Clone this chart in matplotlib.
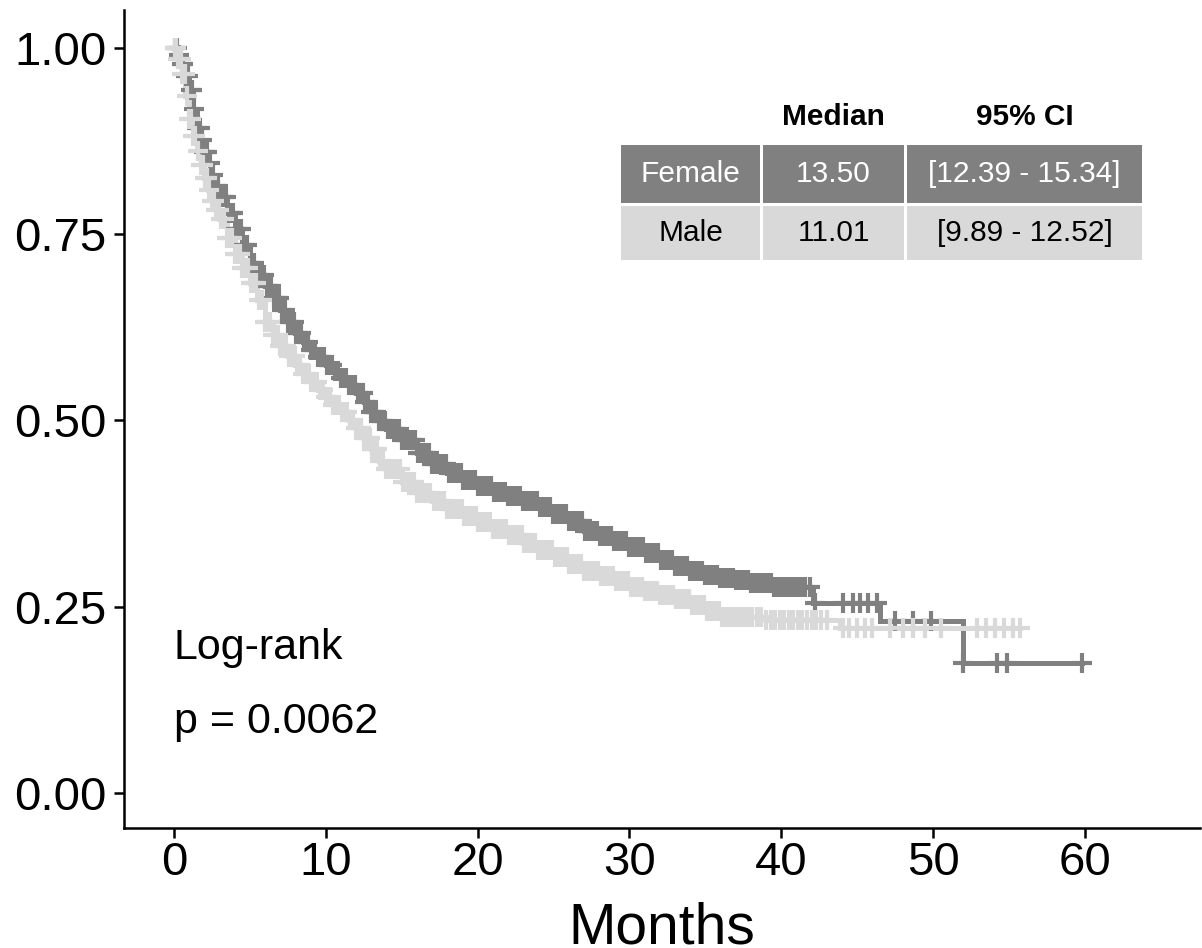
import matplotlib
matplotlib.use("Agg")
import matplotlib.pyplot as plt
import numpy as np
from matplotlib.patches import Rectangle

plt.rcParams['font.family'] = ['Liberation Sans', 'DejaVu Sans']

# Kaplan-Meier step knots (months, survival)
female_t = [0, 0.25, 0.5, 0.75, 1.0, 1.25, 1.5, 1.75, 2.0, 2.25, 2.5, 2.75, 3.0,
            3.5, 4.0, 4.5, 5.0, 5.5, 6.0, 6.5, 7.0, 7.5, 8.0, 8.5, 9.0, 9.5, 10.0,
            10.5, 11.0, 11.5, 12.0, 12.5, 13.0, 13.5, 14.0, 15.0, 16.0, 17.0, 18.0,
            19.0, 20.0, 21.0, 22.0, 23.0, 24.0, 25.0, 26.0, 27.0, 28.0, 29.0, 30.0,
            31.0, 32.0, 33.0, 34.0, 35.0, 36.0, 37.0, 38.0, 39.5, 42.1, 46.5, 52.0]
female_s = [1.0, 0.99, 0.978, 0.962, 0.943, 0.918, 0.893, 0.876, 0.86, 0.845, 0.83, 0.815, 0.80,
            0.778, 0.757, 0.735, 0.712, 0.695, 0.68, 0.665, 0.648, 0.632, 0.618, 0.606, 0.595, 0.585, 0.575,
            0.566, 0.557, 0.547, 0.537, 0.525, 0.512, 0.499, 0.489, 0.474, 0.457, 0.442, 0.43,
            0.42, 0.412, 0.404, 0.398, 0.392, 0.384, 0.375, 0.365, 0.352, 0.345, 0.338, 0.330,
            0.322, 0.313, 0.305, 0.298, 0.292, 0.288, 0.286, 0.282, 0.277, 0.255, 0.231, 0.174]
female_end = 59.8

male_t = [0, 0.25, 0.5, 0.75, 1.0, 1.25, 1.5, 1.75, 2.0, 2.25, 2.5, 2.75, 3.0,
          3.5, 4.0, 4.5, 5.0, 5.5, 6.0, 6.5, 7.0, 7.5, 8.0, 8.5, 9.0, 9.5, 10.0,
          10.5, 11.0, 11.5, 12.0, 12.5, 13.0, 13.5, 14.0, 15.0, 16.0, 17.0, 18.0,
          19.0, 20.0, 21.0, 22.0, 23.0, 24.0, 25.0, 26.0, 27.0, 28.0, 29.0, 30.0,
          31.0, 32.0, 33.0, 34.0, 35.0, 36.0, 39.0, 43.9]
male_s = [1.0, 0.985, 0.965, 0.935, 0.905, 0.882, 0.862, 0.843, 0.825, 0.81, 0.795, 0.782, 0.77,
          0.745, 0.723, 0.705, 0.685, 0.662, 0.632, 0.615, 0.60, 0.587, 0.575, 0.563, 0.552, 0.541, 0.531,
          0.521, 0.511, 0.501, 0.49, 0.477, 0.462, 0.446, 0.435, 0.418, 0.403, 0.392, 0.381,
          0.372, 0.364, 0.355, 0.346, 0.336, 0.326, 0.317, 0.308, 0.298, 0.291, 0.284, 0.277,
          0.271, 0.266, 0.26, 0.252, 0.244, 0.236, 0.232, 0.221]
male_end = 55.7

# censoring times (months), dense in the first three years
female_cens = [0.1, 0.2, 0.35, 0.5, 0.6, 0.8, 0.95, 1.1, 1.2, 1.3, 1.5, 1.7, 1.85, 2.0, 2.1,
               2.2, 2.4, 2.6, 2.75, 2.9, 3.05, 3.2, 3.4, 3.6, 3.75, 3.9, 4.1, 4.3, 4.45, 4.6,
               4.8, 5.0, 5.15, 5.3, 5.5, 5.7, 5.9, 6.1, 6.25, 6.4, 6.6, 6.8, 6.95, 7.1, 7.3,
               7.5, 7.7, 7.9, 8.05, 8.2, 8.4, 8.6, 8.8, 9.0, 9.15, 9.3, 9.5, 9.7, 9.9, 10.1,
               10.25, 10.4, 10.6, 10.8, 11.0, 11.2, 11.35, 11.5, 11.7, 11.9, 12.1, 12.3, 12.45,
               12.6, 12.8, 13.0, 13.15, 13.3, 13.5, 13.7, 13.9, 14.1, 14.25, 14.4, 14.6, 14.8,
               15.0, 15.2, 15.35, 15.5, 15.7, 15.9, 16.1, 16.3, 16.45, 16.6, 16.8, 17.0, 17.2,
               17.4, 17.55, 17.7, 17.9, 18.1, 18.3, 18.5, 18.7, 18.9, 19.05, 19.2, 19.4, 19.6,
               19.8, 20.0, 20.15, 20.3, 20.5, 20.7, 20.9, 21.1, 21.3, 21.5, 21.65, 21.8, 22.0,
               22.2, 22.4, 22.6, 22.8, 23.0, 23.15, 23.3, 23.5, 23.7, 23.9, 24.1, 24.3, 24.5,
               24.65, 24.8, 25.0, 25.2, 25.4, 25.6, 25.8, 26.0, 26.15, 26.3, 26.5, 26.7, 26.9,
               27.1, 27.3, 27.5, 27.7, 27.9, 28.05, 28.2, 28.4, 28.6, 28.8, 29.0, 29.2, 29.4,
               29.6, 29.8, 30.0, 30.2, 30.35, 30.5, 30.7, 30.9, 31.1, 31.3, 31.5, 31.7, 31.9,
               32.1, 32.3, 32.5, 32.65, 32.8, 33.0, 33.2, 33.4, 33.6, 33.8, 34.0, 34.2, 34.4,
               34.6, 34.8, 35.0, 35.2, 35.4, 35.6, 35.8, 36.0, 36.2, 36.4, 36.6, 36.8, 37.0,
               37.2, 37.4, 37.6, 37.8, 38.0, 38.25, 38.5, 38.7, 38.9, 39.1, 39.3, 39.55, 39.8,
               40.0, 40.2, 40.45, 40.7, 40.95, 41.2, 41.4, 41.6, 41.9, 42.2,
               44.1, 44.7, 45.2, 45.7, 46.3, 47.5, 48.7, 49.9, 52.0, 54.2, 54.9, 59.8]
male_cens = [0.05, 0.15, 0.3, 0.45, 0.55, 0.7, 0.85, 1.0, 1.15, 1.25, 1.4, 1.6, 1.75, 1.9,
             2.05, 2.15, 2.3, 2.5, 2.65, 2.8, 2.95, 3.1, 3.3, 3.5, 3.65, 3.8, 4.0, 4.2, 4.35,
             4.5, 4.7, 4.9, 5.05, 5.2, 5.4, 5.6, 5.8, 6.0, 6.15, 6.3, 6.5, 6.7, 6.85, 7.0,
             7.2, 7.4, 7.6, 7.8, 7.95, 8.1, 8.3, 8.5, 8.7, 8.9, 9.05, 9.2, 9.4, 9.6, 9.8,
             10.0, 10.15, 10.3, 10.5, 10.7, 10.9, 11.1, 11.25, 11.4, 11.6, 11.8, 12.0, 12.2,
             12.35, 12.5, 12.7, 12.9, 13.05, 13.2, 13.4, 13.6, 13.8, 14.0, 14.15, 14.3, 14.5,
             14.7, 14.9, 15.1, 15.25, 15.4, 15.6, 15.8, 16.0, 16.2, 16.35, 16.5, 16.7, 16.9,
             17.1, 17.3, 17.45, 17.6, 17.8, 18.0, 18.2, 18.4, 18.6, 18.8, 18.95, 19.1, 19.3,
             19.5, 19.7, 19.9, 20.05, 20.2, 20.4, 20.6, 20.8, 21.0, 21.2, 21.4, 21.55, 21.7,
             21.9, 22.1, 22.3, 22.5, 22.7, 22.9, 23.05, 23.2, 23.4, 23.6, 23.8, 24.0, 24.2,
             24.4, 24.55, 24.7, 24.9, 25.1, 25.3, 25.5, 25.7, 25.9, 26.05, 26.2, 26.4, 26.6,
             26.8, 27.0, 27.2, 27.4, 27.6, 27.8, 27.95, 28.1, 28.3, 28.5, 28.7, 28.9, 29.1,
             29.3, 29.5, 29.7, 29.9, 30.1, 30.25, 30.4, 30.6, 30.8, 31.0, 31.2, 31.4, 31.6,
             31.8, 32.0, 32.2, 32.4, 32.55, 32.7, 32.9, 33.1, 33.3, 33.5, 33.7, 33.9, 34.1,
             34.3, 34.5, 34.7, 34.9, 35.1, 35.3, 35.5, 35.7, 35.9, 36.1, 36.35, 36.6, 36.85,
             37.1, 37.35, 37.6, 37.85, 38.1, 38.4, 38.7, 39.0, 39.3, 39.6, 39.9, 40.2, 40.5,
             40.8, 41.1, 41.4, 41.7, 42.0, 42.3, 42.6, 43.0,
             44.1, 44.5, 45.0, 45.5, 46.0, 47.2, 48.0, 48.7, 49.5, 50.5, 52.9, 53.5, 54.1,
             54.7, 55.3, 55.7]

groups = ["Female", "Male"]
colors = ["#808080", "#d9d9d9"]
medians = ["13.50", "11.01"]
ci = ["[12.39 - 15.34]", "[9.89 - 12.52]"]
pvalue = "0.0062"

xticks = [0, 10, 20, 30, 40, 50, 60]
yticks = [0.0, 0.25, 0.5, 0.75, 1.0]

fig = plt.figure(figsize=(12.02, 9.48), dpi=100)
ax = fig.add_axes([124 / 1202, 1 - 828 / 948, 1076 / 1202, 818 / 948])


def step_value(t, s, x):
    idx = np.searchsorted(t, x, side='right') - 1
    return np.asarray(s)[idx]


curves = [(female_t, female_s, female_end, female_cens),
          (male_t, male_s, male_end, male_cens)]
# lines first, then censor marks (ggplot layer order)
for (t, s, end, cens), col, z in zip(curves, colors, [2, 3]):
    tt = list(t) + [end]
    ss = list(s) + [s[-1]]
    ax.step(tt, ss, where='post', color=col, lw=3.6, zorder=z,
            solid_joinstyle='miter')
for (t, s, end, cens), col, z in zip(curves, colors, [4, 5]):
    cy = step_value(t, s, cens)
    ax.plot(cens, cy, ls='none', marker='+', ms=14.5, mew=3.0, color=col, zorder=z)

ax.set_xlim(-3.29, 67.59)
ax.set_ylim(-0.047, 1.051)
ax.set_xticks(xticks)
ax.set_yticks(yticks)
ax.set_yticklabels([f"{v:.2f}" for v in yticks])
ax.tick_params(axis='both', labelsize=34, length=7.2, width=1.8, color='black')
ax.tick_params(axis='y', pad=5.5)
ax.tick_params(axis='x', pad=2.5)
for side in ['top', 'right']:
    ax.spines[side].set_visible(False)
for side in ['left', 'bottom']:
    ax.spines[side].set_linewidth(1.8)

fig.text(662 / 1202, 1 - 943 / 948, "Months", ha='center', va='baseline', fontsize=41)

ax.text(0, 0.195, "Log-rank", ha='left', va='center', fontsize=31)
ax.text(0, 0.095, f"p = {pvalue}", ha='left', va='center', fontsize=31)


# table of medians, laid out in pixel space
def fx(px):
    return (px - 124) / 1076


def fy(py):
    return (828 - py) / 818


col_edges = [(621, 760), (763, 904), (907, 1142)]
row_edges = [(145, 203), (206, 260)]
text_colors = ["white", "black"]
for r, (g, fill, tc) in enumerate(zip(groups, colors, text_colors)):
    y0, y1 = row_edges[r]
    cells = [g, medians[r], ci[r]]
    for (x0, x1), txt in zip(col_edges, cells):
        ax.add_patch(Rectangle((fx(x0), fy(y1)), fx(x1) - fx(x0), fy(y0) - fy(y1),
                               transform=ax.transAxes, facecolor=fill, edgecolor='none',
                               clip_on=False, zorder=6))
        ax.text((fx(x0) + fx(x1)) / 2, (fy(y0) + fy(y1)) / 2, txt, transform=ax.transAxes,
                ha='center', va='center', fontsize=21.5, color=tc, zorder=7)
for (x0, x1), h in zip(col_edges[1:], ["Median", "95% CI"]):
    ax.text((fx(x0) + fx(x1)) / 2, fy(117), h, transform=ax.transAxes, ha='center',
            va='center', fontsize=21.5, fontweight='bold', zorder=7)

fig.savefig("out.png", dpi=100)
